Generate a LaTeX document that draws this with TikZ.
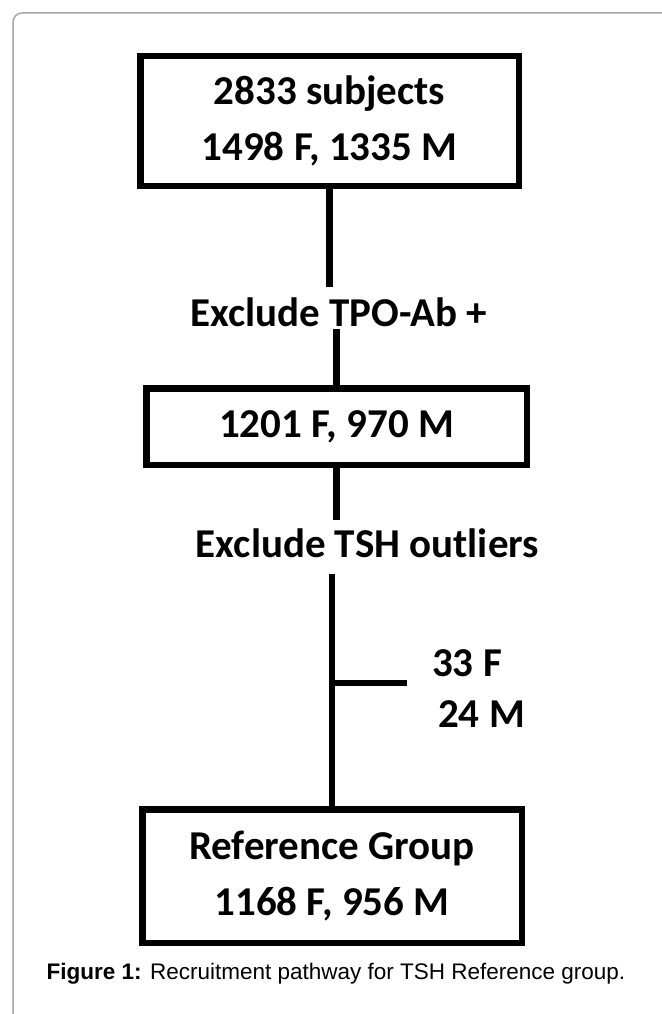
\documentclass[tikz,border=0pt]{standalone}
\usepackage{fontspec}
\setmainfont{Carlito}
\newfontfamily\capfont{Liberation Sans}
\usetikzlibrary{calc}

\newcommand{\flowfont}{\fontsize{41}{56}\selectfont\bfseries}

\begin{document}
\begin{tikzpicture}[x=1pt,y=-1pt,
  stage/.style={draw,line width=6.5pt,font=\flowfont,align=center,inner sep=0pt},
  note/.style={font=\flowfont,inner sep=2pt},
  link/.style={line width=6.5pt}]
  \useasboundingbox (0,0) rectangle (661,1014);
  % frame of the figure
  \draw[black!35,line width=1.5pt,rounded corners=9pt] (13,1040) -- (13,13) -- (690,13);
  % stages
  \node[stage,minimum width=378.5pt,minimum height=129.5pt] (total) at (329.5,121) {2833 subjects\\1498 F, 1335 M};
  \node[stage,minimum width=380.5pt,minimum height=76.5pt] (kept) at (336.5,426.5) {1201 F, 970 M};
  \node[stage,minimum width=379.5pt,minimum height=133.5pt] (refgrp) at (332,876) {Reference Group\\1168 F, 956 M};
  % exclusion steps
  \node[note,anchor=base] (tpo) at (339,326) {Exclude TPO-Ab +};
  \node[note,anchor=base] (tsh) at (367.5,557) {Exclude TSH outliers};
  \node[note,anchor=base west] (outF) at (430,676) {33 F};
  \node[note,anchor=base west] (outM) at (436,727) {24 M};
  \coordinate (cut) at (407,683);
  % connectors
  \draw[link] (total.south) -- ([yshift=8pt]total.south |- tpo.north);
  \draw[link] (tpo.south -| kept.north) -- (kept.north);
  \draw[link] (kept.south) -- ([yshift=6pt]kept.south |- tsh.north);
  \draw[link] ([yshift=-14pt]tsh.south -| refgrp.north) -- (refgrp.north);
  \draw[link] (refgrp.north |- cut) -- (cut);
  % caption
  \node[font=\capfont\fontsize{22.5}{26}\selectfont,anchor=base] (caption) at (336,979) {\textbf{Figure 1:} Recruitment pathway for TSH Reference group.};
\end{tikzpicture}
\end{document}
